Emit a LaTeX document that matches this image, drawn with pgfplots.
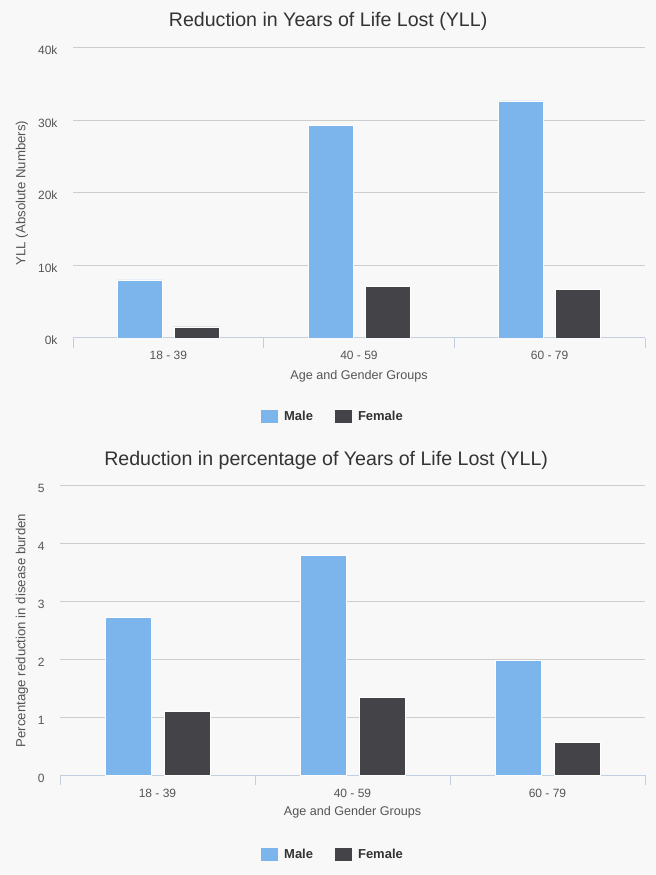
\documentclass[border=0pt]{standalone}
\usepackage{pgfplots}
\pgfplotsset{compat=1.18}
\usepackage{fontspec}
\setmainfont{Liberation Sans}
\definecolor{bg}{HTML}{F8F8F8}
\definecolor{maleblue}{HTML}{7CB5EC}
\definecolor{femalegray}{HTML}{434348}
\definecolor{gridc}{HTML}{CDCDCD}
\definecolor{axisc}{HTML}{C0D0E0}
\definecolor{tickc}{HTML}{555555}
\definecolor{titlec}{HTML}{333333}
\pgfplotsset{
  mystyle/.style={
    scale only axis,
    ybar,
    xmin=-0.5, xmax=2.5, ymin=0,
    enlargelimits=false,
    axis x line*=bottom,
    axis y line*=left,
    x axis line style={-, draw=axisc, line width=1bp},
    y axis line style={draw=none},
    ytick style={draw=none},
    xtick={0,1,2},
    xticklabels={18 - 39, 40 - 59, 60 - 79},
    minor xtick={-0.5,0.5,1.5,2.5},
    major tick length=0pt,
    minor tick length=10bp,
    tick align=outside,
    xtick pos=bottom,
    minor x tick style={draw=axisc, line width=1bp},
    ymajorgrids,
    major grid style={draw=gridc, line width=1bp},
    /pgf/number format/assume math mode=true,
    tick label style={font=\fontsize{12bp}{14bp}\selectfont, text=tickc},
    xlabel style={font=\fontsize{12.6bp}{15bp}\selectfont, text=tickc},
    ylabel style={font=\fontsize{13.2bp}{15bp}\selectfont, text=tickc},
    title style={font=\fontsize{19.6bp}{22bp}\selectfont, text=titlec, anchor=center},
    legend columns=2,
    legend style={draw=none, fill=none, anchor=center,
      font=\fontsize{13bp}{15bp}\selectfont\bfseries, text=titlec,
      /tikz/every even column/.append style={column sep=20bp}},
    legend image code/.code={\fill[#1,draw=none] (0bp,-5.5bp) rectangle (17bp,7.5bp); \path[draw=none,fill=none] (21bp,0bp);},
  }
}
\begin{document}
\begin{tikzpicture}
\fill[bg] (0,0) rectangle (656bp,875bp);
% top chart
\begin{axis}[mystyle,
  at={(73bp,537bp)}, anchor=south west,
  width=572bp, height=290bp,
  ymax=40000,
  ytick={0,10000,20000,30000,40000},
  yticklabels={0k,10k,20k,30k,40k},
  scaled y ticks=false,
  yticklabel style={anchor=east, xshift=-12bp, yshift=-2.5bp},
  xticklabel style={anchor=base, yshift=-21.5bp},
  title={Reduction in Years of Life Lost (YLL)},
  title style={at={([yshift=21bp]axis description cs:0.446,1)}},
  xlabel={Age and Gender Groups},
  xlabel style={at={([yshift=-41.5bp]axis description cs:0.5,0)}, anchor=base},
  ylabel={YLL (Absolute Numbers)},
  ylabel style={at={([xshift=-51bp]axis description cs:0,0.5)}, anchor=center, rotate=0},
  legend style={at={(0.4545,-0.2724)}},
]
\addplot[bar width=45bp, bar shift=-28.5bp, fill=maleblue, draw=white, line width=0.8bp]
  coordinates {(0,8000) (1,29300) (2,32700)};
\addplot[bar width=45bp, bar shift=28.5bp, fill=femalegray, draw=white, line width=0.8bp]
  coordinates {(0,1520) (1,7080) (2,6660)};
\legend{Male, Female}
\end{axis}
% bottom chart
\begin{axis}[mystyle,
  at={(60bp,99.7bp)}, anchor=south west,
  width=585bp, height=289.6bp,
  ymax=5,
  ytick={0,1,2,3,4,5},
  yticklabels={0,1,2,3,4,5},
  yticklabel style={anchor=east, xshift=-12bp, yshift=-3bp},
  xticklabel style={anchor=base, yshift=-22bp},
  title={Reduction in percentage of Years of Life Lost (YLL)},
  title style={at={([yshift=19.5bp]axis description cs:0.455,1)}},
  xlabel={Age and Gender Groups},
  xlabel style={at={([yshift=-40.5bp]axis description cs:0.5,0)}, anchor=base},
  ylabel={Percentage reduction in disease burden},
  ylabel style={at={([xshift=-38bp]axis description cs:0,0.5)}, anchor=center, rotate=0},
  legend style={at={(0.4667,-0.2752)}},
]
\addplot[bar width=46bp, bar shift=-29.5bp, fill=maleblue, draw=white, line width=0.8bp]
  coordinates {(0,2.72) (1,3.79) (2,1.98)};
\addplot[bar width=46bp, bar shift=29.5bp, fill=femalegray, draw=white, line width=0.8bp]
  coordinates {(0,1.10) (1,1.34) (2,0.56)};
\legend{Male, Female}
\end{axis}
\pgfresetboundingbox
\useasboundingbox (0,0) rectangle (656bp,875bp);
\end{tikzpicture}
\end{document}
